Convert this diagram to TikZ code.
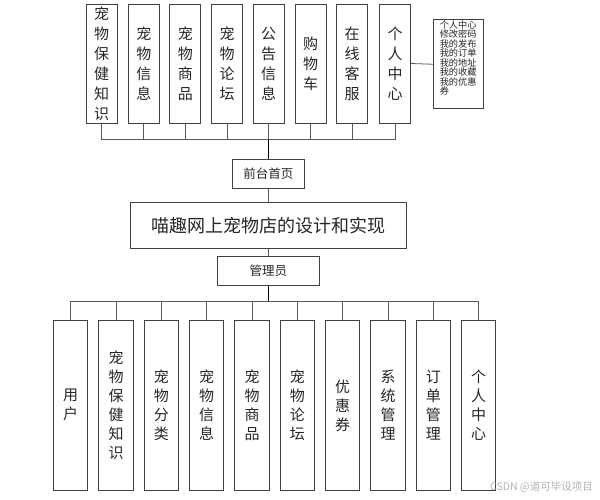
\documentclass[tikz,border=0pt]{standalone}
\usepackage{fontspec}
\setmainfont{Noto Sans CJK SC}
\begin{document}
\begin{tikzpicture}[x=1pt, y=-1pt,
  box/.style={draw=black!75, line width=0.9pt, inner sep=0pt, align=center, text=black!85},
  topbox/.style={box, minimum width=31pt, minimum height=119pt, font=\fontsize{15}{20}\selectfont},
  lowbox/.style={box, minimum width=34.4pt, minimum height=170.7pt, font=\fontsize{15}{19}\selectfont},
  link/.style={draw=black!65, line width=0.8pt},
  trunk/.style={draw=black, line width=1.6pt}]
  \useasboundingbox (0, 0) rectangle (600, 499);
  \node[topbox] (zhishi) at (101.7, 63.5) {宠\\物\\保\\健\\知\\识};
  \node[topbox] (xinxi) at (143.8, 63.5) {宠\\物\\信\\息};
  \node[topbox] (shangpin) at (185.3, 63.5) {宠\\物\\商\\品};
  \node[topbox] (luntan) at (227.2, 63.5) {宠\\物\\论\\坛};
  \node[topbox] (gonggao) at (268.7, 63.5) {公\\告\\信\\息};
  \node[topbox] (gouwuche) at (310.5, 63.5) {购\\物\\车};
  \node[topbox] (kefu) at (352, 63.5) {在\\线\\客\\服};
  \node[topbox] (geren) at (395, 63.5) {个\\人\\中\\心};
  \node[box, anchor=north west, inner xsep=0pt, align=left, font=\fontsize{9.2}{9.5}\selectfont] (gerenlist) at (433.3, 19.3)
    {\parbox[c][89pt][t]{49.4pt}{\vspace{1pt}\hspace*{6pt}个人中心\\\hspace*{6pt}修改密码\\\hspace*{6pt}我的发布\\\hspace*{6pt}我的订单\\\hspace*{6pt}我的地址\\\hspace*{6pt}我的收藏\\\hspace*{6pt}我的优惠\\\hspace*{6pt}券}};
  \node[box, minimum width=72pt, minimum height=29pt, font=\fontsize{12.5}{14}\selectfont] (home) at (268.3, 173.8) {前台首页};
  \node[box, minimum width=275.3pt, minimum height=46pt, font=\fontsize{18}{20}\selectfont] (title) at (268.3, 225.3) {喵趣网上宠物店的设计和实现};
  \node[box, minimum width=102.6pt, minimum height=29.7pt, font=\fontsize{12.5}{14}\selectfont] (admin) at (268.3, 270.8) {管理员};
  \node[lowbox] (yonghu) at (70.7, 405.3) {用\\户};
  \node[lowbox] (zhishi2) at (116, 405.3) {宠\\物\\保\\健\\知\\识};
  \node[lowbox] (fenlei) at (161.3, 405.3) {宠\\物\\分\\类};
  \node[lowbox] (xinxi2) at (206.7, 405.3) {宠\\物\\信\\息};
  \node[lowbox] (shangpin2) at (252, 405.3) {宠\\物\\商\\品};
  \node[lowbox] (luntan2) at (297.3, 405.3) {宠\\物\\论\\坛};
  \node[lowbox] (youhui) at (342.7, 405.3) {优\\惠\\券};
  \node[lowbox] (xitong) at (388, 405.3) {系\\统\\管\\理};
  \node[lowbox] (dingdan) at (433.3, 405.3) {订\\单\\管\\理};
  \node[lowbox] (geren2) at (478.7, 405.3) {个\\人\\中\\心};
  \node[text=black!30, font=\fontsize{10.5}{12}\selectfont] (mark) at (541.5, 487) {CSDN @道可毕设项目};
  \coordinate (topbus) at (268.3, 139.3);
  \coordinate (lowbus) at (268.3, 301);
  \draw [link] (zhishi.south) |- (topbus);
  \draw [link] (xinxi.south) |- (topbus);
  \draw [link] (shangpin.south) |- (topbus);
  \draw [link] (luntan.south) |- (topbus);
  \draw [link] (gonggao.south) |- (topbus);
  \draw [link] (gouwuche.south) |- (topbus);
  \draw [link] (kefu.south) |- (topbus);
  \draw [link] (geren.south) |- (topbus);
  \draw [link] (geren.east) -- (gerenlist.west);
  \draw [trunk] (topbus) -- (home.north);
  \draw [link] (home.south) -- (title.north);
  \draw [link] (title.south) -- (admin.north);
  \draw [trunk] (admin.south) -- (lowbus);
  \draw [link] (yonghu.north) |- (lowbus);
  \draw [link] (zhishi2.north) |- (lowbus);
  \draw [link] (fenlei.north) |- (lowbus);
  \draw [link] (xinxi2.north) |- (lowbus);
  \draw [link] (shangpin2.north) |- (lowbus);
  \draw [link] (luntan2.north) |- (lowbus);
  \draw [link] (youhui.north) |- (lowbus);
  \draw [link] (xitong.north) |- (lowbus);
  \draw [link] (dingdan.north) |- (lowbus);
  \draw [link] (geren2.north) |- (lowbus);
\end{tikzpicture}
\end{document}
